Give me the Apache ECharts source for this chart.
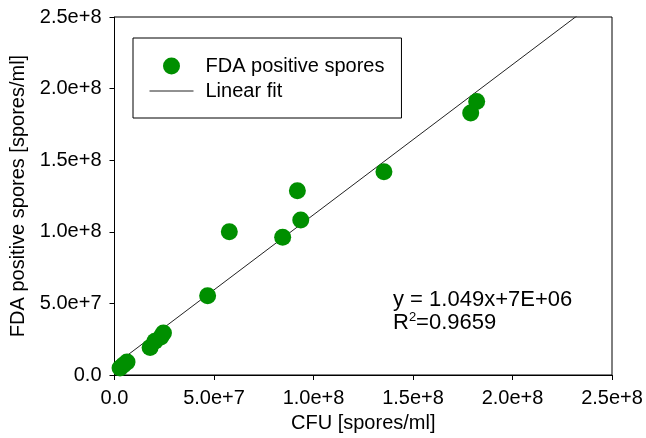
<!DOCTYPE html>
<html>
<head>
<meta charset="utf-8">
<script src="https://cdn.jsdelivr.net/npm/echarts@6/dist/echarts.min.js"></script>
<style>html,body{margin:0;padding:0;background:#fff}#c{width:646px;height:438px}</style>
</head>
<body>
<div id="c"></div>
<script>
// CFU [spores/ml] (x) vs FDA positive spores [spores/ml] (y)
const cfu = [2.8e6, 4.5e6, 6.3e6, 17.9e6, 20.3e6, 23.3e6, 24.6e6, 46.8e6, 57.7e6, 84.5e6, 91.9e6, 93.6e6, 135.4e6, 179.0e6, 182.0e6];
const fda = [4.9e6, 7.0e6, 9.1e6, 19.2e6, 23.5e6, 26.5e6, 29.4e6, 55.4e6, 100.1e6, 96.2e6, 128.6e6, 108.3e6, 141.9e6, 182.9e6, 191.0e6];
const fitSlope = 1.049;
const fitIntercept = 7e6;
const fitXRange = [0, 2.5e8];
const tickValues = [0, 5e7, 1e8, 1.5e8, 2e8, 2.5e8];
const tickLabels = ['0.0', '5.0e+7', '1.0e+8', '1.5e+8', '2.0e+8', '2.5e+8'];
const seriesNames = ['FDA positive spores', 'Linear fit'];
const xTitle = 'CFU [spores/ml]';
const yTitle = 'FDA positive spores [spores/ml]';
const eqLine = 'y = 1.049x+7E+06';
const r2Value = '0.9659';

const FONT = '"Liberation Sans", Arial, sans-serif';
const fmt = v => { const i = tickValues.findIndex(t => Math.abs(t - v) < 1); return i >= 0 ? tickLabels[i] : ''; };

const chart = echarts.init(document.getElementById('c'), null, {renderer: 'canvas'});
const axisCommon = {
  type: 'value', min: 0, max: 2.5e8, interval: 5e7,
  axisLine: {show: true, onZero: false, lineStyle: {color: '#000', width: 1}},
  axisTick: {show: true, inside: false, length: 5, lineStyle: {color: '#000', width: 1}},
  splitLine: {show: false},
  nameLocation: 'middle',
  nameTextStyle: {fontFamily: FONT, fontSize: 20, color: '#000'},
};
chart.setOption({
  animation: false,
  backgroundColor: '#fff',
  grid: {left: 114.5, right: 34, top: 17, bottom: 63, show: true, borderColor: '#000', borderWidth: 1},
  xAxis: Object.assign({}, axisCommon, {
    name: xTitle, nameGap: 38,
    axisLabel: {margin: 13, fontFamily: FONT, fontSize: 20, color: '#000', formatter: fmt}
  }),
  yAxis: Object.assign({}, axisCommon, {
    name: yTitle, nameGap: 86, nameRotate: 90,
    axisLabel: {margin: 13, fontFamily: FONT, fontSize: 20, color: '#000', formatter: fmt}
  }),
  legend: {
    orient: 'vertical', left: 133, top: 38,
    padding: [18, 17, 17, 16], itemGap: 5,
    itemWidth: 44, itemHeight: 17,
    borderColor: '#000', borderWidth: 1,
    textStyle: {fontFamily: FONT, fontSize: 20, color: '#000', padding: [0, 0, 0, 7]},
    data: [
      {name: seriesNames[0]},
      {name: seriesNames[1], itemStyle: {opacity: 0, color: 'rgba(0,0,0,0)', borderWidth: 0}, lineStyle: {color: '#222', width: 1, opacity: 1}}
    ]
  },
  series: [
    {
      name: seriesNames[1], type: 'line', symbol: 'none', z: 1,
      lineStyle: {color: '#222', width: 1}, itemStyle: {color: '#222'},
      clip: true,
      data: fitXRange.map(x => [x, fitSlope * x + fitIntercept])
    },
    {
      name: seriesNames[0], type: 'scatter', symbol: 'circle', symbolSize: 17, z: 2,
      itemStyle: {color: '#008f00', opacity: 1},
      data: cfu.map((x, i) => [x, fda[i]])
    }
  ],
  graphic: [
    {
      type: 'text', left: 393, top: 288,
      style: {
        text: eqLine + '\n{r|R}{s|2}{r|=' + r2Value + '}',
        fontFamily: FONT, fontSize: 22, fill: '#000', lineHeight: 23,
        rich: {
          r: {fontFamily: FONT, fontSize: 22, fill: '#000', lineHeight: 23},
          s: {fontFamily: FONT, fontSize: 13, fill: '#000', verticalAlign: 'top', padding: [0,0,9,0], lineHeight: 23}
        }
      }
    }
  ]
});
</script>
</body>
</html>
